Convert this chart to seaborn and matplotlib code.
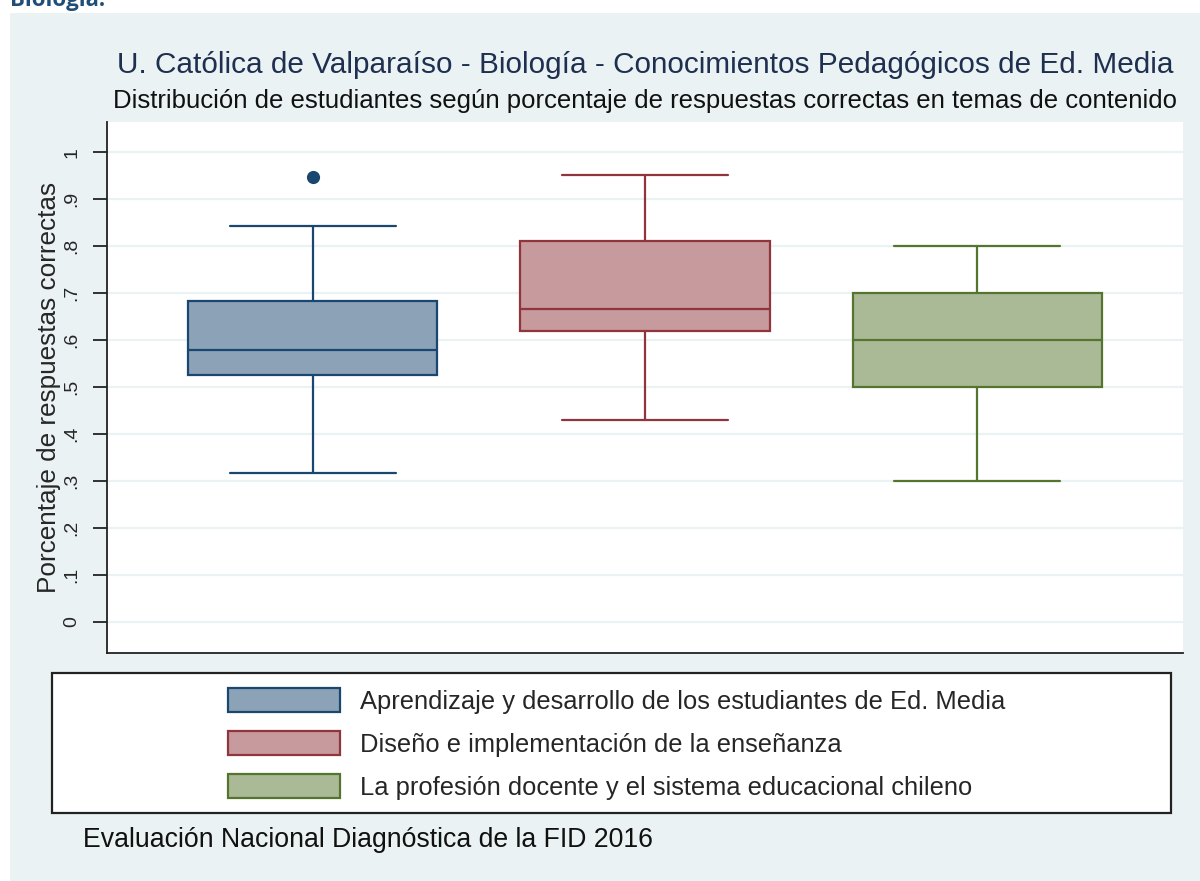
import numpy as np
import pandas as pd
import matplotlib
matplotlib.use("Agg")
import matplotlib.pyplot as plt
from matplotlib.patches import Rectangle, Patch
import seaborn as sns

# ---- data ----
categories = [
    "Aprendizaje y desarrollo de los estudiantes de Ed. Media",
    "Diseño e implementación de la enseñanza",
    "La profesión docente y el sistema educacional chileno",
]
# five-number summaries: lower whisker, q1, median, q3, upper whisker
summary_aprendizaje = [0.316, 0.526, 0.579, 0.684, 0.842]
summary_diseno = [0.429, 0.619, 0.667, 0.810, 0.952]
summary_profesion = [0.300, 0.500, 0.600, 0.700, 0.800]
outliers_aprendizaje = [0.947]

yticks = [0, .1, .2, .3, .4, .5, .6, .7, .8, .9, 1]
ytick_labels = ["0", ".1", ".2", ".3", ".4", ".5", ".6", ".7", ".8", ".9", "1"]

fill_colors = ["#8CA3B7", "#C79A9D", "#AABA97"]
edge_colors = ["#1A476F", "#90353B", "#55752F"]

title = "U. Católica de Valparaíso - Biología - Conocimientos Pedagógicos de Ed. Media"
subtitle = "Distribución de estudiantes según porcentaje de respuestas correctas en temas de contenido"
ylabel = "Porcentaje de respuestas correctas"
note = "Evaluación Nacional Diagnóstica de la FID 2016"

# ---- build frames ----
summaries = [summary_aprendizaje, summary_diseno, summary_profesion]
df = pd.DataFrame({
    "tema": np.repeat(categories, [len(s) for s in summaries]),
    "valor": np.concatenate(summaries),
})
df_out = pd.DataFrame({"tema": [categories[0]] * len(outliers_aprendizaje),
                       "valor": outliers_aprendizaje})

sns.set_style("white")
plt.rcParams["font.family"] = ["Liberation Sans", "DejaVu Sans"]

W, H = 1200, 881
fig = plt.figure(figsize=(W / 100, H / 100), dpi=100, facecolor="white")

# light bluish-gray graph region
fig.patches.append(Rectangle((10 / W, 0), 1 - 10 / W, 1 - 13 / H,
                             transform=fig.transFigure, facecolor="#EAF2F3",
                             edgecolor="none", zorder=-5))
fig.text(10 / W, 1 - 6 / H, "Biología.", fontsize=16, fontweight="bold",
         color="#1F4E79", family=["Open Sans", "DejaVu Sans"], va="baseline", ha="left")

ax = fig.add_axes([107 / W, 1 - 653 / H, (1183 - 107) / W, (653 - 122) / H])
ax.set_facecolor("white")

for i, cat in enumerate(categories):
    sub = df[df["tema"] == cat]
    sns.boxplot(data=sub, x="tema", y="valor", order=categories, ax=ax,
                whis=(0, 100), width=0.75, capwidths=0.5,
                boxprops=dict(facecolor=fill_colors[i], edgecolor=edge_colors[i], linewidth=1.6),
                medianprops=dict(color=edge_colors[i], linewidth=1.6),
                whiskerprops=dict(color=edge_colors[i], linewidth=1.6),
                capprops=dict(color=edge_colors[i], linewidth=1.6),
                showfliers=False, zorder=3)

sns.stripplot(data=df_out, x="tema", y="valor", order=categories, ax=ax,
              jitter=False, color=edge_colors[0], size=9.5, zorder=4)

ax.set_xlim(-0.62, 2.62)
ax.set_ylim(-0.066, 1.064)
ax.set_yticks(yticks)
ax.set_yticklabels(ytick_labels, rotation=90, va="center", fontsize=14)
ax.set_xticks([])
ax.set_xlabel("")
ax.set_ylabel(ylabel, fontsize=18.8, labelpad=2)
ax.yaxis.grid(True, color="#EAF2F3", linewidth=1.6, zorder=0)
ax.set_axisbelow(True)
ax.tick_params(axis="y", length=10, width=1.3, color="#222222", pad=9, left=True)
for s in ["top", "right"]:
    ax.spines[s].set_visible(False)
for s in ["left", "bottom"]:
    ax.spines[s].set_color("#222222")
    ax.spines[s].set_linewidth(1.3)

fig.text(645 / W, 1 - 65 / H, title, fontsize=21.4, ha="center", va="center", color="#1f2f50")
fig.text(645 / W, 1 - 101 / H, subtitle, fontsize=18.5, ha="center", va="center", color="#111111")

# legend frame
fig.patches.append(Rectangle((52 / W, 1 - 813 / H), (1171 - 52) / W, (813 - 673) / H,
                             transform=fig.transFigure, facecolor="white",
                             edgecolor="#222222", linewidth=1.6, zorder=1))
handles = [Patch(facecolor=fc, edgecolor=ec, linewidth=1.6)
           for fc, ec in zip(fill_colors, edge_colors)]
fs = 18.4
fs_px = fs * 100 / 72
leg = fig.legend(handles, categories, loc="upper left",
                 bbox_to_anchor=(228 / W, 1 - 688 / H), bbox_transform=fig.transFigure,
                 frameon=False, fontsize=fs, borderpad=0, borderaxespad=0,
                 handlelength=112 / fs_px, handleheight=28 / fs_px,
                 handletextpad=20 / fs_px, labelspacing=0.66)

fig.text(83 / W, 1 - 840 / H, note, fontsize=19.2, ha="left", va="center", color="#111111")

fig.savefig("out.png", dpi=100, facecolor="white")
